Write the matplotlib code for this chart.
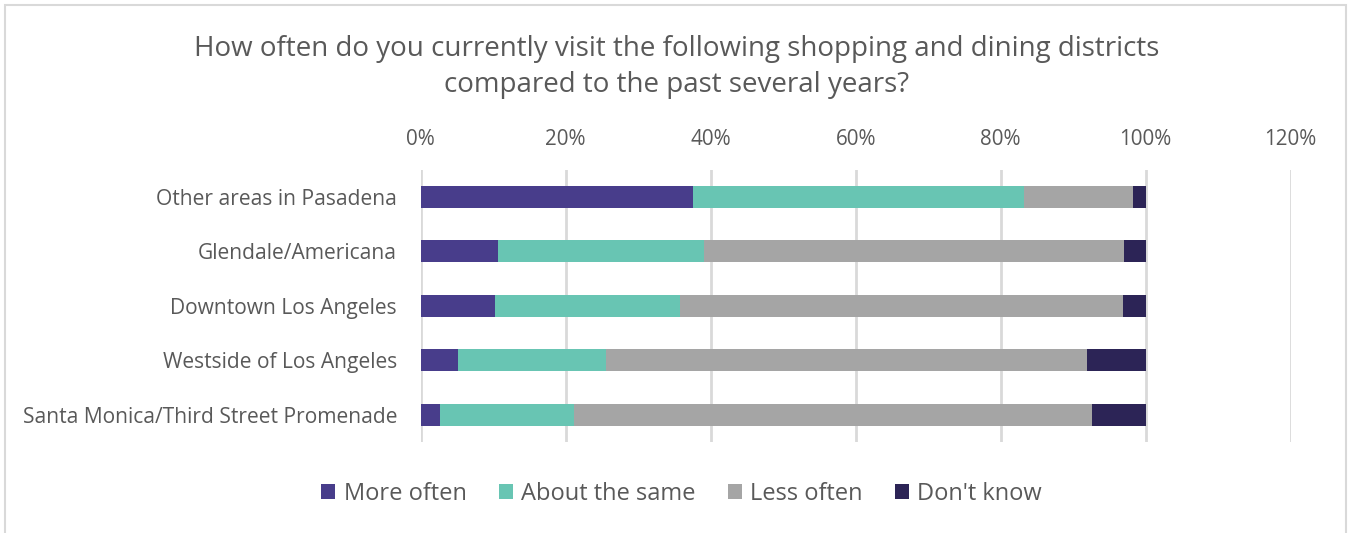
import matplotlib
matplotlib.use("Agg")
import matplotlib.pyplot as plt
from matplotlib.patches import Rectangle
import numpy as np

plt.rcParams['font.family'] = ['Open Sans', 'DejaVu Sans']

categories = [
    "Other areas in Pasadena",
    "Glendale/Americana",
    "Downtown Los Angeles",
    "Westside of Los Angeles",
    "Santa Monica/Third Street Promenade",
]
series_names = ["More often", "About the same", "Less often", "Don't know"]
more_often = [37.6, 10.7, 10.3, 5.2, 2.6]
about_same = [45.6, 28.4, 25.4, 20.4, 18.6]
less_often = [15.0, 57.9, 61.2, 66.3, 71.4]
dont_know = [1.8, 3.0, 3.1, 8.1, 7.4]
x_ticks = [0, 20, 40, 60, 80, 100, 120]
x_tick_labels = ["0%", "20%", "40%", "60%", "80%", "100%", "120%"]
title = ("How often do you currently visit the following shopping and dining districts\n"
         "compared to the past several years?")

colors = ["#483D8B", "#68C5B3", "#A5A5A5", "#2C2456"]
text_color = "#595959"

fig = plt.figure(figsize=(13.48, 5.33), dpi=100)
W, H = 1348, 533
ax = fig.add_axes([420.7 / W, 1 - 442 / H, 870 / W, 272.5 / H])

y = np.arange(len(categories))
left = np.zeros(len(categories))
for name, vals, c in zip(series_names, [more_often, about_same, less_often, dont_know], colors):
    ax.barh(y, vals, left=left, height=0.4, color=c, label=name, zorder=3)
    left = left + np.array(vals)

ax.set_xlim(0, 120)
ax.set_ylim(len(categories) - 0.5, -0.5)
ax.set_yticks(y)
ax.set_yticklabels(categories, fontsize=15.1, color=text_color)
ax.set_xticks(x_ticks)
ax.set_xticklabels(x_tick_labels, fontsize=14.9, color=text_color)
ax.xaxis.tick_top()
ax.tick_params(axis='both', length=0)
ax.tick_params(axis='x', pad=14)
ax.tick_params(axis='y', pad=17)
ax.grid(axis='x', color="#D9D9D9", linewidth=2, zorder=0)
for s in ax.spines.values():
    s.set_visible(False)

fig.text(0.5022, 1 - 67 / H, title, ha='center', va='center', fontsize=20,
         color=text_color, linespacing=1.4)

handles, labels = ax.get_legend_handles_labels()
leg = fig.legend(handles, labels, loc='center', bbox_to_anchor=(0.5056, 1 - 494 / H),
                 ncol=4, frameon=False, fontsize=17, handlelength=0.6, handleheight=0.6,
                 handletextpad=0.35, columnspacing=1.36, labelcolor=text_color)

fig.patches.append(Rectangle((4.5 / W, -0.05), (1346 - 4.5) / W, 1.05 - 5.5 / H,
                             transform=fig.transFigure, fill=False,
                             edgecolor="#D9D9D9", linewidth=1.5))

fig.savefig("out.png", dpi=100)
